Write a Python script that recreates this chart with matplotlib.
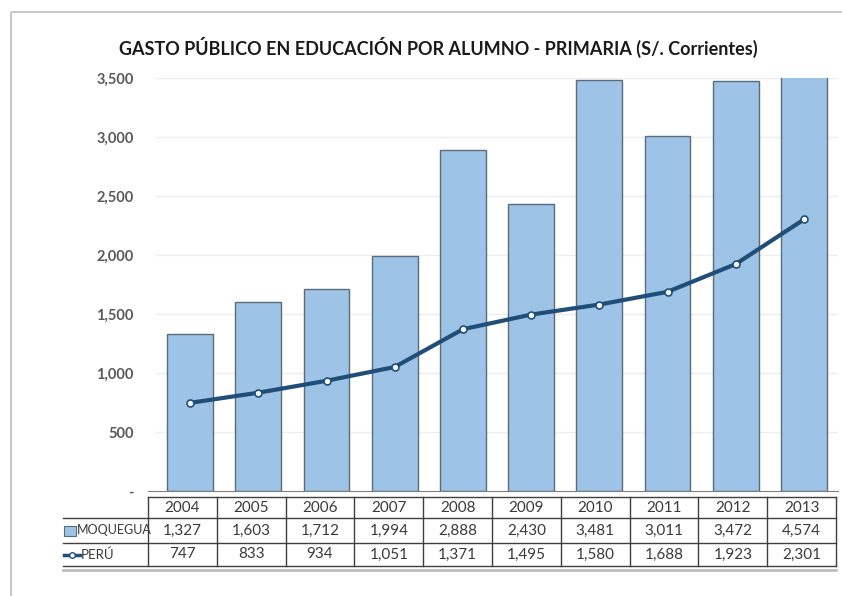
import matplotlib.pyplot as plt
from matplotlib.patches import Rectangle
from matplotlib.lines import Line2D

plt.rcParams['font.family'] = ['Lato', 'DejaVu Sans']

years = ['2004', '2005', '2006', '2007', '2008', '2009', '2010', '2011', '2012', '2013']
moquegua = [1327, 1603, 1712, 1994, 2888, 2430, 3481, 3011, 3472, 4574]
peru = [747, 833, 934, 1051, 1371, 1495, 1580, 1688, 1923, 2301]
yticks = [0, 500, 1000, 1500, 2000, 2500, 3000, 3500]

BAR = '#9DC3E6'
BAR_EDGE = '#5B6B7B'
LINE = '#1F4E79'
GRID = '#EDEDED'
TXT = '#3A3A3A'

W, H = 842, 596
fig = plt.figure(figsize=(W / 100, H / 100), dpi=100)

def fx(px):
    return px / W

def fy(py):
    return 1 - py / H

# main chart area
ax = fig.add_axes([fx(156), fy(491), fx(838) - fx(156), fy(78) - fy(491)])
x = list(range(len(years)))
ax.bar(x, moquegua, width=0.67, color=BAR, edgecolor=BAR_EDGE, linewidth=1.0, zorder=2)
ax.plot(x, peru, color=LINE, lw=3, marker='o', ms=5, mfc='white', mec=LINE, mew=1.2, zorder=3)
ax.set_xlim(-0.5, len(years) - 0.5)
ax.set_ylim(0, 3500)
ax.set_yticks(yticks)
ax.set_yticklabels(['-' if v == 0 else f'{v:,}' for v in yticks],
                   fontsize=10.5, fontweight='bold', color='#595959')
ax.tick_params(axis='y', length=0, pad=16)
ax.set_xticks([])
for v in yticks[1:]:
    ax.axhline(v, color=GRID, lw=1, zorder=1)
for s in ['top', 'right', 'left']:
    ax.spines[s].set_visible(False)
ax.spines['bottom'].set_color('#7F7F7F')
ax.spines['bottom'].set_bounds(-0.62, len(years) - 0.5)

fig.text(fx(438), fy(47), 'GASTO PÚBLICO EN EDUCACIÓN POR ALUMNO - PRIMARIA (S/. Corrientes)',
         ha='center', va='center', fontsize=13, fontweight='bold', color='#1a1a1a')

# overlay in pixel coordinates for the data table and frame
ov = fig.add_axes([0, 0, 1, 1], zorder=-1)
ov.set_xlim(0, W)
ov.set_ylim(H, 0)
ov.axis('off')

ov.add_patch(Rectangle((11, 12), W, H, fill=False, edgecolor='#BFBFBF', lw=1.2))

x0, x1 = 148, 836
lx = 63
rows = [497, 518, 543, 566]
ncol = len(years)
cw = (x1 - x0) / ncol
kw = dict(color='#3F3F3F', lw=1.0)
ov.plot([x0, x1], [rows[0], rows[0]], **kw)
for r in rows[1:]:
    ov.plot([lx, x1], [r, r], **kw)
ov.plot([lx, x1], [rows[3] + 4, rows[3] + 4], color='#BFBFBF', lw=2)
for i in range(ncol + 1):
    ov.plot([x0 + i * cw] * 2, [rows[0], rows[3]], **kw)

for i in range(ncol):
    cx = x0 + (i + 0.5) * cw
    ov.text(cx, (rows[0] + rows[1]) / 2, years[i], ha='center', va='center', fontsize=11, color=TXT)
    ov.text(cx, (rows[1] + rows[2]) / 2, f'{moquegua[i]:,}', ha='center', va='center', fontsize=11, color=TXT)
    ov.text(cx, (rows[2] + rows[3]) / 2, f'{peru[i]:,}', ha='center', va='center', fontsize=11, color=TXT)

# legend keys in row headers
ym = (rows[1] + rows[2]) / 2
ov.add_patch(Rectangle((64, ym - 5), 12, 10, facecolor=BAR, edgecolor=BAR_EDGE, lw=0.8))
ov.text(77, ym, 'MOQUEGUA', ha='left', va='center', fontsize=9, color=TXT)
yp = (rows[2] + rows[3]) / 2
ov.add_line(Line2D([64, 80], [yp, yp], color=LINE, lw=2.5))
ov.plot([72], [yp], marker='o', ms=4, mfc='white', mec=LINE, mew=1)
ov.text(81, yp, 'PERÚ', ha='left', va='center', fontsize=9.5, color=TXT)

fig.savefig('out.png', dpi=100)
